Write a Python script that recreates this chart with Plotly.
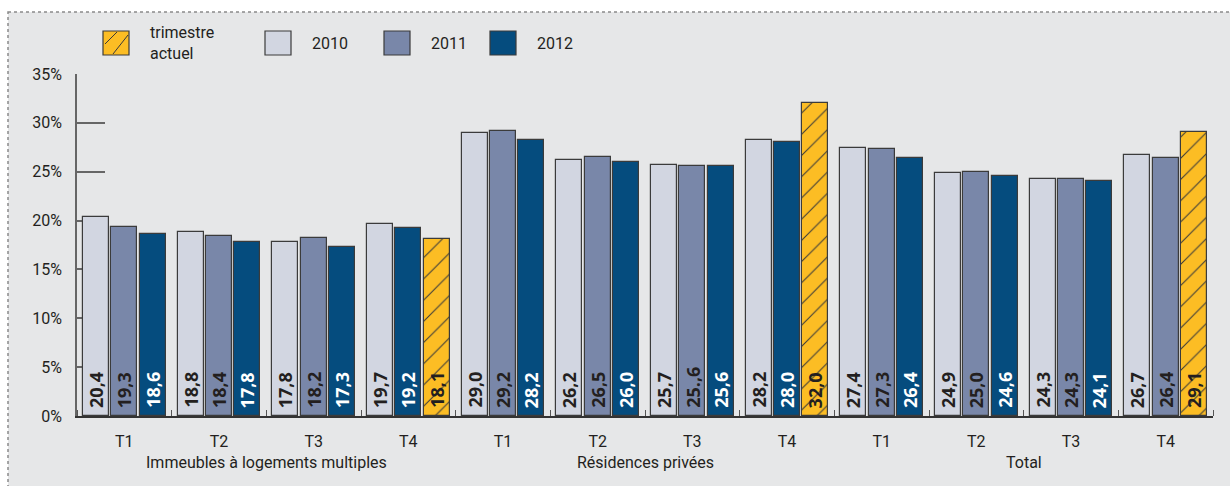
import plotly.graph_objects as go

# ---- data -------------------------------------------------------------
sectors = ["Immeubles à logements multiples", "Résidences privées", "Total"]
quarters = ["T1", "T2", "T3", "T4"]

v2010 = [20.4, 18.8, 17.8, 19.7, 29.0, 26.2, 25.7, 28.2, 27.4, 24.9, 24.3, 26.7]
v2011 = [19.3, 18.4, 18.2, None, 29.2, 26.5, 25.6, None, 27.3, 25.0, 24.3, 26.4]
v2012 = [18.6, 17.8, 17.3, 19.2, 28.2, 26.0, 25.6, 28.0, 26.4, 24.6, 24.1, None]
vcur = [None, None, None, 18.1, None, None, None, 32.0, None, None, None, 29.1]

# printed label that differs from the plain formatting of its value
label_override = {("2011", 6): "25.,6"}

y_ticks = [0, 5, 10, 15, 20, 25, 30, 35]

# ---- styling ----------------------------------------------------------
W, H = 1230, 486
L, R, T, B = 77, 17, 74, 70
BG = "#e6e7e8"
FONT = "Roboto"
VAL_FONT = "Open Sans"

series = [
    ("2010", v2010, "#d2d6e1", "#231f20", None),
    ("2011", v2011, "#7987a9", "#231f20", None),
    ("2012", v2012, "#054c7e", "#ffffff", None),
    ("trimestre actuel", vcur, "#fcbd24", "#231f20", "/"),
]

n_groups = len(v2010)
SLOT = 0.3
BAR_W = 0.275


def fmt(v):
    return f"{v:.1f}".replace(".", ",")


# pixel helpers for items placed in paper coordinates
def px(x):
    return (x - L) / (W - L - R)


def py(y):
    return (H - B - y) / (H - T - B)


# slot of each bar inside its group: present series fill the slots in order
slot_of = {}
for g in range(n_groups):
    k = 0
    for name, vals, *_ in series:
        if vals[g] is not None:
            slot_of[(name, g)] = k
            k += 1

fig = go.Figure()
annotations = []

for name, vals, color, txtcol, hatch in series:
    xs, ys = [], []
    for g, v in enumerate(vals):
        if v is None:
            continue
        x = g + (slot_of[(name, g)] - 1) * SLOT
        xs.append(x)
        ys.append(v)
        annotations.append(dict(
            x=x, y=0, xref="x", yref="y",
            text=label_override.get((name, g), fmt(v)),
            textangle=-90, showarrow=False,
            xanchor="center", yanchor="bottom", yshift=6,
            font=dict(family=VAL_FONT, size=18, color=txtcol, weight="bold"),
        ))
    marker = dict(color=color, line=dict(color="#3b3b3b", width=1.2))
    if hatch:
        marker["pattern"] = dict(shape=hatch, fgcolor="#3a3a3a", bgcolor=color,
                                 size=15, solidity=0.07, fillmode="replace")
    fig.add_trace(go.Bar(x=xs, y=ys, width=BAR_W, marker=marker, name=name,
                         showlegend=False, hoverinfo="skip"))

# sector labels under the quarter labels
for i, s in enumerate(sectors):
    annotations.append(dict(
        x=i * 4 + 1.5, y=py(462), xref="x", yref="paper", yanchor="middle",
        text=s, showarrow=False,
        font=dict(family=FONT, size=16, color="#231f20"),
    ))

shapes = [
    # panel background and dotted frame
    dict(type="rect", xref="paper", yref="paper", x0=px(8), x1=px(1232),
         y0=py(12), y1=py(490), fillcolor=BG, line=dict(width=0), layer="below"),
    dict(type="rect", xref="paper", yref="paper", x0=px(8), x1=px(1232),
         y0=py(12), y1=py(490), fillcolor="rgba(0,0,0,0)",
         line=dict(color="#8a8a8a", width=1.5, dash="dot"), layer="below"),
]

legend_items = [
    ("trimestre<br>actuel", "#fcbd24", 103, True),
    ("2010", "#d2d6e1", 265, False),
    ("2011", "#7987a9", 384, False),
    ("2012", "#054c7e", 490, False),
]
for text, color, x0, hatched in legend_items:
    x1, y0, y1 = x0 + 26, 31, 55
    shapes.append(dict(type="rect", xref="paper", yref="paper",
                       x0=px(x0), x1=px(x1), y0=py(y1), y1=py(y0),
                       fillcolor=color, line=dict(color="#3b3b3b", width=1.2)))
    if hatched:
        for a, b in [((x0 + 2, y0 + 13), (x0 + 14, y0 + 1)),
                     ((x0 + 10, y1 - 1), (x1 - 1, y0 + 4))]:
            shapes.append(dict(type="line", xref="paper", yref="paper",
                               x0=px(a[0]), y0=py(a[1]), x1=px(b[0]), y1=py(b[1]),
                               line=dict(color="#3a3a3a", width=1)))
    annotations.append(dict(
        x=px(x1 + 19), y=py(43), xref="paper", yref="paper",
        xanchor="left", yanchor="middle", align="left", showarrow=False,
        text=text, font=dict(family=FONT, size=16, color="#231f20"),
    ))

fig.update_layout(
    width=W, height=H,
    margin=dict(l=L, r=R, t=T, b=B),
    paper_bgcolor="#ffffff", plot_bgcolor=BG,
    barmode="overlay", bargap=0,
    font=dict(family=FONT, size=16, color="#231f20"),
    shapes=shapes, annotations=annotations,
    showlegend=False,
    xaxis=dict(
        range=[-0.5, n_groups - 0.5],
        tickmode="array", tickvals=list(range(n_groups)),
        ticktext=quarters * len(sectors),
        ticks="", showgrid=False, zeroline=False,
        showline=True, linecolor="#333333", linewidth=1.5,
        ticklabelstandoff=10,
        minor=dict(tickmode="array",
                   tickvals=[g - 0.5 for g in range(n_groups + 1)],
                   ticks="inside", ticklen=6, tickcolor="#555555", tickwidth=1.2,
                   showgrid=False),
        layer="below traces", fixedrange=True,
    ),
    yaxis=dict(
        range=[0, 35], tickmode="array", tickvals=y_ticks,
        ticktext=[f"{t}%" for t in y_ticks],
        ticks="inside", ticklen=28, tickcolor="#666666", tickwidth=1.5,
        showgrid=False, zeroline=False,
        showline=True, linecolor="#666666", linewidth=1.5,
        ticklabelstandoff=10,
        layer="below traces", fixedrange=True,
    ),
)

fig.write_html("out.html")
